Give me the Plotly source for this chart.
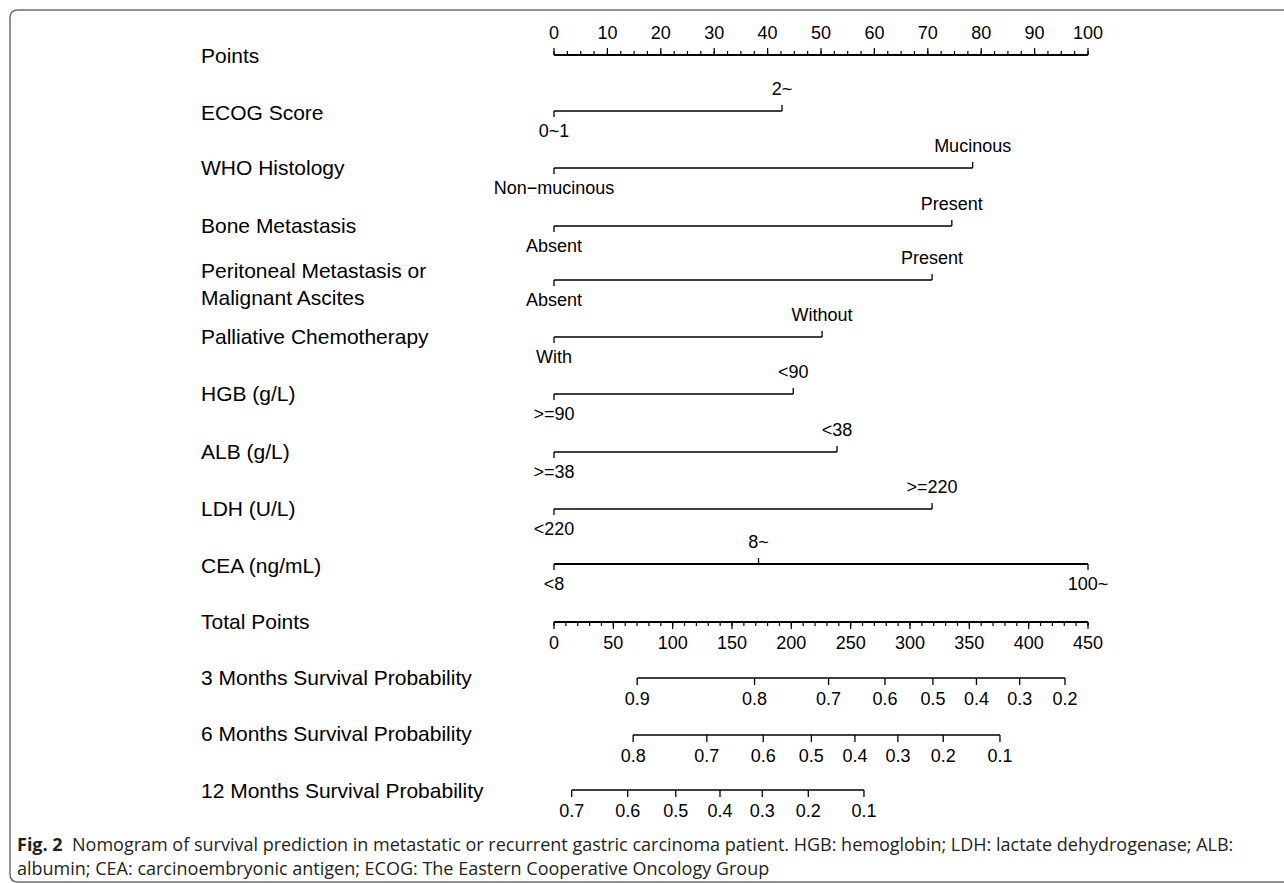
import plotly.graph_objects as go

# ---------------------------------------------------------------------------
# Nomogram content
# ---------------------------------------------------------------------------
POINTS_MAX = 100
TOTAL_MAX = 450

point_ticks = list(range(0, 101, 10))
point_minor = [i * 2.5 for i in range(41)]
total_ticks = list(range(0, 451, 50))
total_minor = list(range(0, 451, 10))

row_labels = [
    "Points", "ECOG Score", "WHO Histology", "Bone Metastasis",
    "Peritoneal Metastasis or<br>Malignant Ascites", "Palliative Chemotherapy",
    "HGB (g/L)", "ALB (g/L)", "LDH (U/L)", "CEA (ng/mL)", "Total Points",
    "3 Months Survival Probability", "6 Months Survival Probability",
    "12 Months Survival Probability",
]

# predictor levels and the points each level contributes
ecog_levels = ["0~1", "2~"]
ecog_points = [0, 42.7]
who_levels = ["Non\u2212mucinous", "Mucinous"]
who_points = [0, 78.4]
bone_levels = ["Absent", "Present"]
bone_points = [0, 74.5]
perit_levels = ["Absent", "Present"]
perit_points = [0, 70.8]
chemo_levels = ["With", "Without"]
chemo_points = [0, 50.2]
hgb_levels = [">=90", "<90"]
hgb_points = [0, 44.8]
alb_levels = [">=38", "<38"]
alb_points = [0, 53.0]
ldh_levels = ["<220", ">=220"]
ldh_points = [0, 70.8]
cea_levels = ["<8", "8~", "100~"]
cea_points = [0, 38.3, 100]

# survival probability scales, positioned in total points
surv3_probs = ["0.9", "0.8", "0.7", "0.6", "0.5", "0.4", "0.3", "0.2"]
surv3_total = [70.1, 169.0, 231.4, 278.9, 319.3, 356.0, 392.4, 430.6]
surv6_probs = ["0.8", "0.7", "0.6", "0.5", "0.4", "0.3", "0.2", "0.1"]
surv6_total = [66.7, 128.8, 176.3, 216.9, 253.6, 289.8, 328.0, 375.8]
surv12_probs = ["0.7", "0.6", "0.5", "0.4", "0.3", "0.2", "0.1"]
surv12_total = [14.9, 62.1, 102.6, 139.9, 175.5, 214.3, 261.2]

caption_1 = ("<b>Fig. 2</b>  Nomogram of survival prediction in metastatic or recurrent "
             "gastric carcinoma patient. HGB: hemoglobin; LDH: lactate dehydrogenase; ALB:")
caption_2 = ("albumin; CEA: carcinoembryonic antigen; ECOG: The Eastern Cooperative "
             "Oncology Group")

# ---------------------------------------------------------------------------
# Layout geometry (page pixels)
# ---------------------------------------------------------------------------
W, H = 1284, 883
X0_PX, X100_PX = 554, 1088          # where 0 and 100 points sit
PX_PER_PT = (X100_PX - X0_PX) / POINTS_MAX
LABEL_X_PX = 199

row_y = [55, 111, 168, 226, 280, 337, 394, 452, 509, 564, 622, 678, 735, 790]
label_y = [55, 112, 167, 225, 284, 336, 393, 451, 508, 565, 621, 677, 733, 790]

FONT = "Liberation Sans, Arial, Helvetica, sans-serif"
LABEL_SIZE = 21
TICK_SIZE = 18
INK = "#000000"


def tot2pts(v):
    return v * POINTS_MAX / TOTAL_MAX


fig = go.Figure()


def segments(pairs, width):
    xs, ys = [], []
    for (xa, ya, xb, yb) in pairs:
        xs += [xa, xb, None]
        ys += [ya, yb, None]
    fig.add_trace(go.Scatter(x=xs, y=ys, mode="lines",
                             line=dict(color=INK, width=width),
                             hoverinfo="skip", showlegend=False))


def texts(xs, ys, labels, size=TICK_SIZE):
    fig.add_trace(go.Scatter(x=xs, y=ys, mode="text", text=labels,
                             textposition="middle center",
                             textfont=dict(family=FONT, size=size, color=INK),
                             hoverinfo="skip", showlegend=False))


# Points axis (ticks and labels above the line)
y = row_y[0]
segments([(0, y, POINTS_MAX, y)], 2)
segments([(t, y, t, y - 4) for t in point_minor], 1.2)
segments([(t, y, t, y - 7) for t in point_ticks], 1.2)
texts(point_ticks, [y - 21] * len(point_ticks), [str(t) for t in point_ticks])


# Predictor rows
def predictor(y, levels, pts, sides, width=1.3):
    segments([(min(pts), y, max(pts), y)], width)
    ticks = []
    for p, s in zip(pts, sides):
        ticks.append((p, y, p, y - 6 if s == "up" else y + 6))
    segments(ticks, 1.3)
    texts(pts, [y - 21 if s == "up" else y + 21 for s in sides], levels)


two = ["down", "up"]
predictor(row_y[1], ecog_levels, ecog_points, two)
predictor(row_y[2], who_levels, who_points, two)
predictor(row_y[3], bone_levels, bone_points, two)
predictor(row_y[4], perit_levels, perit_points, two)
predictor(row_y[5], chemo_levels, chemo_points, two)
predictor(row_y[6], hgb_levels, hgb_points, two)
predictor(row_y[7], alb_levels, alb_points, two)
predictor(row_y[8], ldh_levels, ldh_points, two)
predictor(row_y[9], cea_levels, cea_points, ["down", "up", "down"], width=2)

# Total points axis (ticks and labels below the line)
y = row_y[10]
segments([(0, y, tot2pts(TOTAL_MAX), y)], 2)
segments([(tot2pts(t), y, tot2pts(t), y + 4) for t in total_minor], 1.2)
segments([(tot2pts(t), y, tot2pts(t), y + 7) for t in total_ticks], 1.2)
texts([tot2pts(t) for t in total_ticks], [y + 22] * len(total_ticks),
      [str(t) for t in total_ticks])


# Survival probability scales
def survival(y, probs, totals):
    xs = [tot2pts(t) for t in totals]
    segments([(min(xs), y, max(xs), y)], 1.3)
    segments([(x, y, x, y + 7) for x in xs], 1.3)
    texts(xs, [y + 22] * len(xs), probs)


survival(row_y[11], surv3_probs, surv3_total)
survival(row_y[12], surv6_probs, surv6_total)
survival(row_y[13], surv12_probs, surv12_total)

# Row names on the left
annotations = []
for lab, ly in zip(row_labels, label_y):
    annotations.append(dict(
        x=LABEL_X_PX / W, xref="paper", y=ly, yref="y",
        text=lab, showarrow=False, xanchor="left", yanchor="middle", align="left",
        font=dict(family=FONT, size=LABEL_SIZE, color=INK)))

# Caption
CAP_FONT = "Open Sans, Lato, sans-serif"
annotations.append(dict(x=15 / W, xref="paper", y=844, yref="y", text=caption_1,
                        showarrow=False, xanchor="left", yanchor="middle",
                        font=dict(family=CAP_FONT, size=18, color="#231f20")))
annotations.append(dict(x=15 / W, xref="paper", y=868, yref="y", text=caption_2,
                        showarrow=False, xanchor="left", yanchor="middle",
                        font=dict(family=CAP_FONT, size=18, color="#231f20")))


# Frame with rounded left corners
def px(xv, yv):
    return f"{xv / W:.5f},{1 - yv / H:.5f}"


frame = (f"M {px(W + 10, 10)} L {px(18, 10)} Q {px(10, 10)} {px(10, 18)} "
         f"L {px(10, 874)} Q {px(10, 882)} {px(18, 882)} L {px(W + 10, 882)}")

x_left = -X0_PX / PX_PER_PT
x_right = (W - X0_PX) / PX_PER_PT

fig.update_layout(
    width=W, height=H,
    margin=dict(l=0, r=0, t=0, b=0),
    paper_bgcolor="white", plot_bgcolor="white",
    showlegend=False,
    xaxis=dict(range=[x_left, x_right], visible=False, fixedrange=True),
    yaxis=dict(range=[H, 0], visible=False, fixedrange=True),
    annotations=annotations,
    shapes=[dict(type="path", path=frame, xref="paper", yref="paper",
                 line=dict(color="#6f6f6f", width=1.5))],
)

fig.write_html("out.html")
